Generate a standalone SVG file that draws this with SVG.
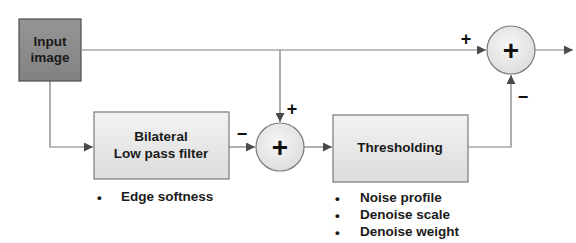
<svg xmlns="http://www.w3.org/2000/svg" width="576" height="243" viewBox="0 0 576 243">
<defs>
<linearGradient id="gBox" x1="0" y1="0" x2="0" y2="1"><stop offset="0" stop-color="#f3f3f3"/><stop offset="1" stop-color="#dcdcdc"/></linearGradient>
<linearGradient id="gIn" x1="0" y1="0" x2="0" y2="1"><stop offset="0" stop-color="#959595"/><stop offset="1" stop-color="#828282"/></linearGradient>
<radialGradient id="gSum" cx="0.45" cy="0.4" r="0.7"><stop offset="0" stop-color="#f6f6f6"/><stop offset="1" stop-color="#dadada"/></radialGradient>
<marker id="arr" viewBox="0 0 10 10" refX="10" refY="5" markerWidth="9" markerHeight="9" markerUnits="userSpaceOnUse" orient="auto"><path d="M0,0 L10,5 L0,10 Z" fill="#4a4a4a"/></marker>
</defs>
<style>
.box{fill:url(#gBox);stroke:#7a7a7a;stroke-width:1.2}
.inbox{fill:url(#gIn);stroke:#4d4d4d;stroke-width:1.2}
.sum{fill:url(#gSum);stroke:#7a7a7a;stroke-width:1.2}
.t{font-family:"Liberation Sans",Arial,sans-serif;font-weight:bold;font-size:13.5px;fill:#1a1a1a}
.c{text-anchor:middle}
.plus{font-family:"Liberation Sans",Arial,sans-serif;font-weight:bold;font-size:28px;fill:#111;text-anchor:middle}
.sgn{font-family:"Liberation Sans",Arial,sans-serif;font-weight:bold;font-size:18px;fill:#111;text-anchor:middle}
.ln{fill:none;stroke:#7a7a7a;stroke-width:1.2}
</style>
<g id="connectors">
<path class="ln" d="M82,50 H486" marker-end="url(#arr)"/>
<path class="ln" d="M280,50 V122" marker-end="url(#arr)"/>
<path class="ln" d="M50,81 V147 H93" marker-end="url(#arr)"/>
<path class="ln" d="M229,147 H255" marker-end="url(#arr)"/>
<path class="ln" d="M304,147 H332" marker-end="url(#arr)"/>
<path class="ln" d="M468,147 H511 V75" marker-end="url(#arr)"/>
<path class="ln" d="M535,50 H573" marker-end="url(#arr)"/>
<text class="sgn" x="466" y="45">+</text>
<text class="sgn" x="523" y="103">−</text>
<text class="sgn" x="292" y="115">+</text>
<text class="sgn" x="242" y="140">−</text>
</g>
<g id="input">
<rect class="inbox" x="19" y="19" width="62" height="62"/>
<text class="t c" x="50" y="46">Input</text>
<text class="t c" x="50" y="62">image</text>
</g>
<g id="bilateral">
<rect class="box" x="94" y="112" width="135" height="67"/>
<text class="t c" x="161" y="141">Bilateral</text>
<text class="t c" x="161" y="158">Low pass filter</text>
<text class="t" x="97" y="202">•</text>
<text class="t" x="121" y="201">Edge softness</text>
</g>
<g id="sum1">
<circle class="sum" cx="280" cy="147" r="24"/>
<text class="plus" x="280" y="157">+</text>
</g>
<g id="thresholding">
<rect class="box" x="333" y="115" width="135" height="67"/>
<text class="t c" x="400" y="152">Thresholding</text>
<text class="t" x="335" y="203">•</text>
<text class="t" x="360" y="202">Noise profile</text>
<text class="t" x="335" y="220">•</text>
<text class="t" x="360" y="219">Denoise scale</text>
<text class="t" x="335" y="237">•</text>
<text class="t" x="360" y="236">Denoise weight</text>
</g>
<g id="sum2">
<circle class="sum" cx="511" cy="50" r="24"/>
<text class="plus" x="511" y="60">+</text>
</g>
</svg>
